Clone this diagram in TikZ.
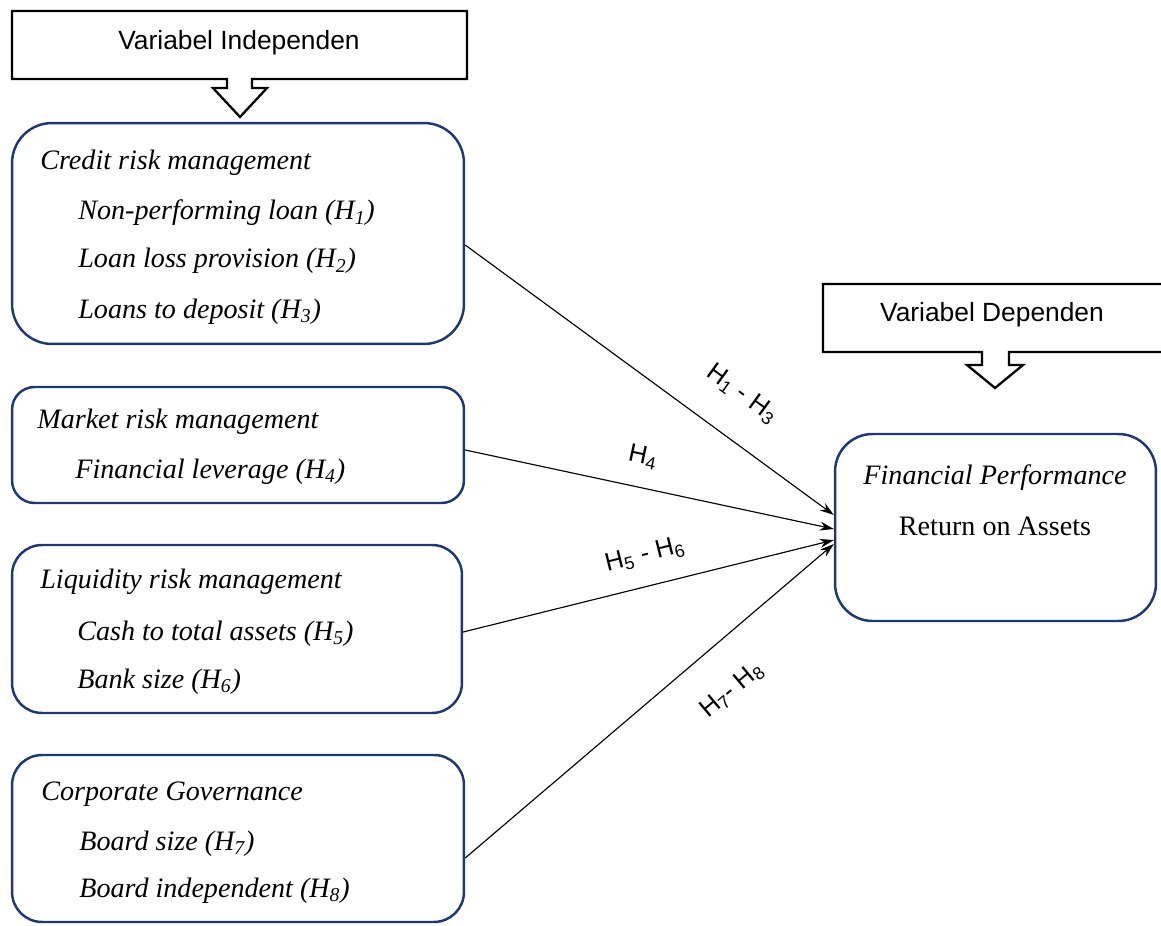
\documentclass[tikz,border=0pt]{standalone}
\usepackage{fontspec}
\setmainfont{Liberation Serif}
\newfontfamily\labelfont{Liberation Sans}
\usetikzlibrary{arrows.meta}
\definecolor{boxblue}{RGB}{31,56,110}

\begin{document}
\begin{tikzpicture}[x=0.02cm,y=-0.02cm,
  rbox/.style={draw=boxblue,line width=1.4pt,inner sep=0pt,minimum width=9.04cm},
  item/.style={anchor=base west,inner sep=0pt,font=\fontsize{16}{19}\selectfont\itshape},
  callout/.style={draw=black,line width=1.3pt,line join=miter},
  calltext/.style={anchor=base,inner sep=0pt,font=\labelfont\fontsize{15}{18}\selectfont},
  hlab/.style={inner sep=0pt,font=\labelfont\fontsize{14.5}{17}\selectfont},
  link/.style={-{Stealth[length=0.28cm,width=0.18cm]},line width=0.65pt}]
\useasboundingbox (0,0) rectangle (1161,926);

% callouts
\draw[callout] (12,11) -- (467,11) -- (467,79) -- (252,79) -- (252,88) -- (267,88) -- (240,117)
  -- (213,88) -- (227,88) -- (227,79) -- (12,79) -- cycle;
\node[calltext] (indep) at (239,50) {Variabel Independen};
\draw[callout] (1161,284) -- (823,284) -- (823,352) -- (982,352) -- (982,365) -- (967,365) -- (995,388)
  -- (1023,365) -- (1009,365) -- (1009,352) -- (1161,352);
\node[calltext] (dep) at (992,321) {Variabel Dependen};

% boxes
\node[rbox,rounded corners=0.8cm,minimum height=4.42cm] (credit) at (238,233.5) {};
\node[rbox,rounded corners=0.45cm,minimum height=2.32cm] (market) at (238,445) {};
\node[rbox,rounded corners=0.6cm,minimum width=9cm,minimum height=3.36cm] (liquid) at (237,629) {};
\node[rbox,rounded corners=0.6cm,minimum height=3.34cm] (gov) at (238,838.5) {};
\node[rbox,rounded corners=0.75cm,minimum width=6.42cm,minimum height=3.74cm] (fin) at (995.5,527.5) {};

\node[item] (credit1) at (40,170) {Credit risk management};
\node[item] (credit2) at (78,220) {Non-performing loan (H\textsubscript{1})};
\node[item] (credit3) at (78,268) {Loan loss provision (H\textsubscript{2})};
\node[item] (credit4) at (78,318) {Loans to deposit (H\textsubscript{3})};

\node[item] (market1) at (37,428) {Market risk management};
\node[item] (market2) at (75,478) {Financial leverage (H\textsubscript{4})};

\node[item] (liquid1) at (40,588) {Liquidity risk management};
\node[item] (liquid2) at (77,640) {Cash to total assets (H\textsubscript{5})};
\node[item] (liquid3) at (77,688) {Bank size (H\textsubscript{6})};

\node[item] (gov1) at (41,800) {Corporate Governance};
\node[item] (gov2) at (79,850) {Board size (H\textsubscript{7})};
\node[item] (gov3) at (79,897) {Board independent (H\textsubscript{8})};

\node[item,anchor=base] (fin1) at (995,484) {Financial Performance};
\node[anchor=base,inner sep=0pt,font=\fontsize{16}{19}\selectfont] (fin2) at (995,535) {Return on Assets};

% hypotheses
\draw[link] ([yshift=-0.23cm]credit.east) -- ([yshift=0.25cm]fin.west);
\draw[link] ([yshift=-0.1cm]market.east) -- ([yshift=-0.03cm]fin.west);
\draw[link] ([yshift=-0.06cm]liquid.east) -- ([yshift=-0.25cm]fin.west);
\draw[link] ([yshift=-0.39cm]gov.east) -- ([yshift=-0.33cm]fin.west);

\node[hlab,rotate=-36] (h13) at (742,394) {H\textsubscript{1} - H\textsubscript{3}};
\node[hlab,rotate=-12] (h4) at (643,457) {H\textsubscript{4}};
\node[hlab,rotate=14] (h56) at (645,555) {H\textsubscript{5} - H\textsubscript{6}};
\node[hlab,rotate=40] (h78) at (732,690) {H\textsubscript{7}- H\textsubscript{8}};
\end{tikzpicture}
\end{document}
